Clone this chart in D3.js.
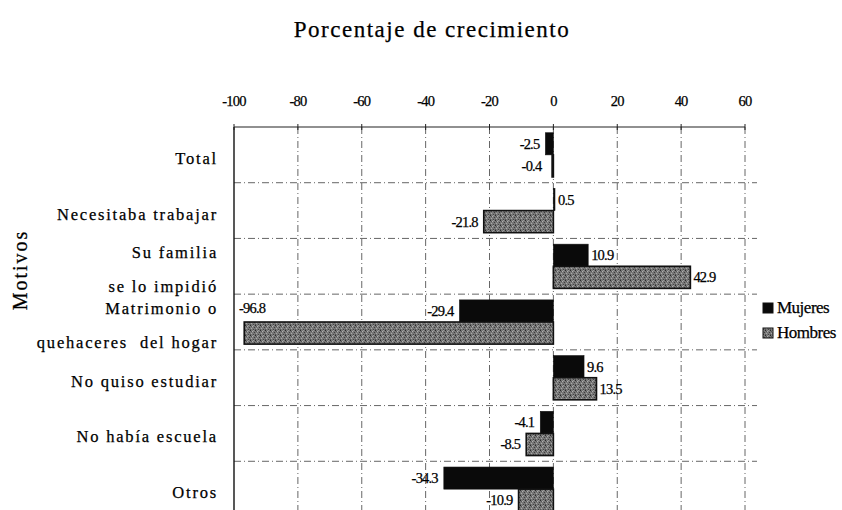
<!DOCTYPE html>
<html>
<head>
<meta charset="utf-8">
<script src="https://cdn.jsdelivr.net/npm/d3@7"></script>
<style>
  body { margin:0; background:#fff; }
  svg { font-family: "Liberation Serif", "DejaVu Serif", serif; }
  text { fill:#000; stroke:#000; stroke-width:0.25px; }
</style>
</head>
<body>
<svg id="chart" width="842" height="510"></svg>
<script>
// data
const categories = [
  ['Total'],
  ['Necesitaba trabajar'],
  ['Su familia', 'se lo impidió'],
  ['Matrimonio o', 'quehaceres  del hogar'],
  ['No quiso estudiar'],
  ['No había escuela'],
  ['Otros']
];
const mujeres = [-2.5, 0.5, 10.9, -29.4, 9.6, -4.1, -34.3];
const hombres = [-0.4, -21.8, 42.9, -96.8, 13.5, -8.5, -10.9];
const xTicks = [-100, -80, -60, -40, -20, 0, 20, 40, 60];
const seriesNames = ['Mujeres', 'Hombres'];

const svg = d3.select('#chart');
const plotL = 234, plotR = 745, plotT = 127, plotB = 517;

const x = d3.scaleLinear().domain([-100, 60]).range([plotL, plotR]);
const y = d3.scaleBand().domain(d3.range(categories.length)).range([plotT, plotB]);
const ySub = d3.scaleBand().domain(seriesNames).range([0, y.bandwidth()]).paddingOuter(0.26);

// stipple pattern for Hombres
const defs = svg.append('defs');
const pat = defs.append('pattern').attr('id','stip').attr('patternUnits','userSpaceOnUse')
  .attr('width',5).attr('height',5);
pat.append('rect').attr('width',5).attr('height',5).attr('fill','#787878');
[[0,0,'#2a2a2a'],[2,1,'#b0b0b0'],[4,2,'#3c3c3c'],[1,3,'#a8a8a8'],[3,4,'#444'],[1,1,'#555'],[3,0,'#999'],[0,4,'#555']].forEach(p=>{
  pat.append('rect').attr('x',p[0]).attr('y',p[1]).attr('width',1).attr('height',1).attr('fill',p[2]);
});

// title
svg.append('text').attr('x',432).attr('y',37).attr('text-anchor','middle')
  .style('font-size','23px').style('letter-spacing','1.5px').text('Porcentaje de crecimiento');

// y title
svg.append('text').attr('transform','translate(27,270) rotate(-90)').attr('text-anchor','middle')
  .style('font-size','20px').style('letter-spacing','2px').text('Motivos');

// grid
const grid = svg.append('g').attr('stroke','#555').attr('stroke-width',0.9).attr('stroke-dasharray','7,3,1,3');
grid.selectAll('line.v').data(xTicks.slice(1)).enter().append('line')
  .attr('x1',d=>x(d)).attr('x2',d=>x(d)).attr('y1',plotT).attr('y2',plotB);
grid.selectAll('line.h').data(d3.range(1, categories.length)).enter().append('line')
  .attr('x1',plotL).attr('x2',plotR+12).attr('y1',d=>y(d)).attr('y2',d=>y(d));

// frame
svg.append('line').attr('x1',plotL).attr('x2',plotL).attr('y1',plotT).attr('y2',plotB)
  .attr('stroke','#111').attr('stroke-width',1.4);
svg.append('line').attr('x1',plotL).attr('x2',plotR).attr('y1',plotT).attr('y2',plotT)
  .attr('stroke','#222').attr('stroke-width',1.2);

// top axis
const ax = svg.append('g');
ax.selectAll('line').data(xTicks).enter().append('line')
  .attr('x1',d=>x(d)).attr('x2',d=>x(d)).attr('y1',plotT-3).attr('y2',plotT+3)
  .attr('stroke','#222').attr('stroke-width',1);
ax.selectAll('text').data(xTicks).enter().append('text')
  .attr('x',d=>x(d)).attr('y',106).attr('text-anchor','middle')
  .style('font-size','14.5px').style('letter-spacing','-0.8px').text(d=>d);

// category labels
const cat = svg.append('g');
categories.forEach((lines,i)=>{
  const cy = y(i) + y.bandwidth()/2;
  const offs = lines.length === 1 ? [4] : [-13, 21];
  lines.forEach((t,j)=>{
    cat.append('text').attr('x',218).attr('y',cy + offs[j] + 5).attr('text-anchor','end')
      .style('font-size','16.5px').style('letter-spacing','1.8px').style('white-space','pre').text(t);
  });
});

// bars
const rows = categories.map((c,i)=>({i, Mujeres: mujeres[i], Hombres: hombres[i]}));
const bars = svg.append('g');
seriesNames.forEach(s=>{
  bars.selectAll('rect.'+s).data(rows).enter().append('rect')
    .attr('x',d=>x(Math.min(0,d[s])))
    .attr('width',d=>Math.abs(x(d[s])-x(0)))
    .attr('y',d=>y(d.i)+ySub(s))
    .attr('height',ySub.bandwidth())
    .attr('fill', s==='Mujeres' ? '#0a0a0a' : 'url(#stip)')
    .attr('stroke','#111').attr('stroke-width', s==='Mujeres' ? 0.6 : 1.6);
});

// value labels
const lab = svg.append('g').style('font-size','14.5px').style('letter-spacing','-0.8px');
seriesNames.forEach(s=>{
  rows.forEach(d=>{
    const v = d[s];
    const end = x(v);
    let tx = v >= 0 ? end + 3 : Math.min(end, x(0)-6) - 6;
    let anchor = v >= 0 ? 'start' : 'end';
    let ty = y(d.i) + ySub(s) + ySub.bandwidth()/2 + 5;
    if (v < 0 && end - 30 < plotL) {
      // no room at the bar end: put it above the bar, next to the frame
      tx = plotL + 5; anchor = 'start';
      ty = y(d.i) + ySub('Mujeres') + ySub.bandwidth()/2 + 2;
    }
    lab.append('text').attr('x',tx).attr('y',ty).attr('text-anchor',anchor).text(v);
  });
});

// legend
const lg = svg.append('g');
seriesNames.forEach((s,k)=>{
  const ly = 303 + k*25;
  lg.append('rect').attr('x',763).attr('y',ly).attr('width',10).attr('height',10)
    .attr('fill', s==='Mujeres' ? '#0a0a0a' : 'url(#stip)')
    .attr('stroke','#111').attr('stroke-width',1);
  lg.append('text').attr('x',777).attr('y',ly+10).style('font-size','17px')
    .style('letter-spacing','-0.5px').text(s);
});
</script>
</body>
</html>
